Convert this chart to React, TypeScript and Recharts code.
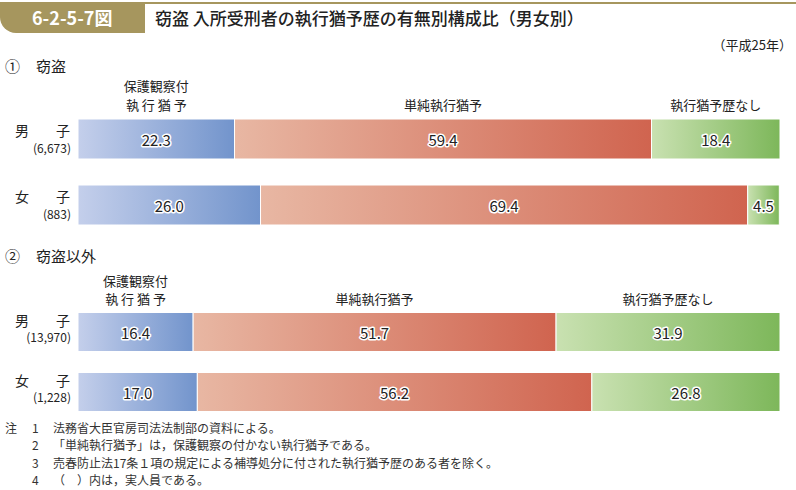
import React from 'react';
import { BarChart, Bar, XAxis, YAxis, LabelList } from 'recharts';

const categories = ['男子', '女子'];
const seriesNames = ['保護観察付執行猶予', '単純執行猶予', '執行猶予歴なし'];

const p1Counts = ['6,673', '883'];
const p1Probation = [22.3, 26.0];
const p1Simple = [59.4, 69.4];
const p1None = [18.4, 4.5];

const p2Counts = ['13,970', '1,228'];
const p2Probation = [16.4, 17.0];
const p2Simple = [51.7, 56.2];
const p2None = [31.9, 26.8];

const notes = [
  ['注', '1', '法務省大臣官房司法法制部の資料による。'],
  ['', '2', '「単純執行猶予」は，保護観察の付かない執行猶予である。'],
  ['', '3', '売春防止法17条１項の規定による補導処分に付された執行猶予歴のある者を除く。'],
  ['', '4', '（　）内は，実人員である。'],
];

const FONT = '"Noto Sans CJK JP", "Noto Sans", sans-serif';

const build = (prob: number[], simple: number[], none: number[], counts: string[]) =>
  categories.map((c, i) => ({
    name: c,
    count: counts[i],
    prob: prob[i],
    simple: simple[i],
    none: none[i],
  }));

const data1 = build(p1Probation, p1Simple, p1None, p1Counts);
const data2 = build(p2Probation, p2Simple, p2None, p2Counts);

const Gradients = () => (
  <defs>
    <linearGradient id="gBlue" x1="0" y1="0" x2="1" y2="0">
      <stop offset="0%" stopColor="#c4cfeb" />
      <stop offset="100%" stopColor="#7294cc" />
    </linearGradient>
    <linearGradient id="gRed" x1="0" y1="0" x2="1" y2="0">
      <stop offset="0%" stopColor="#e8b7a3" />
      <stop offset="100%" stopColor="#d0644f" />
    </linearGradient>
    <linearGradient id="gGreen" x1="0" y1="0" x2="1" y2="0">
      <stop offset="0%" stopColor="#c9e1b1" />
      <stop offset="100%" stopColor="#7db75a" />
    </linearGradient>
  </defs>
);

const valueLabel = (props: any) => {
  const { x, y, width, height, value } = props;
  if (value == null) return null;
  return (
    <text
      x={x + width / 2}
      y={y + height / 2}
      textAnchor="middle"
      dominantBaseline="central"
      fontSize={15}
      fontFamily={FONT}
      fill="#222"
      stroke="#fff"
      strokeWidth={3}
      strokeLinejoin="round"
      paintOrder="stroke"
    >
      {Number(value).toFixed(1)}
    </text>
  );
};

const makeHeader = (lines: string[], dy1: number, dy2: number) => (props: any) => {
  const { x, y, width, index } = props;
  if (index !== 0) return null;
  const cx = x + width / 2;
  return (
    <g>
      {lines.length === 2 && (
        <text x={cx} y={y + dy1} textAnchor="middle" dominantBaseline="central" fontSize={13} fontFamily={FONT} fill="#222">
          {lines[0]}
        </text>
      )}
      <text x={cx} y={y + dy2} textAnchor="middle" dominantBaseline="central" fontSize={13} fontFamily={FONT} fill="#222">
        {lines[lines.length - 1]}
      </text>
    </g>
  );
};

const makeTick = (counts: string[], dyName: number, dyCount: number) => (props: any) => {
  const { y, payload, index } = props;
  const name: string = payload.value;
  const idx = index != null ? index : categories.indexOf(name);
  return (
    <g>
      <text x={15} y={y + dyName} dominantBaseline="central" fontSize={14} fontFamily={FONT} fill="#222">
        {name.charAt(0)}
      </text>
      <text x={70} y={y + dyName} textAnchor="end" dominantBaseline="central" fontSize={14} fontFamily={FONT} fill="#222">
        {name.charAt(1)}
      </text>
      <text x={71} y={y + dyCount} textAnchor="end" dominantBaseline="central" fontSize={12} fontFamily={FONT} fill="#222">
        {`(${counts[idx]})`}
      </text>
    </g>
  );
};

const Panel = ({
  data,
  counts,
  height,
  marginTop,
  marginBottom,
  barSize,
  dyName,
  dyCount,
  h1,
  h2,
}: any) => (
  <BarChart
    width={796}
    height={height}
    data={data}
    layout="vertical"
    margin={{ top: marginTop, right: 16, bottom: marginBottom, left: 0 }}
    barCategoryGap={0}
  >
    <Gradients />
    <XAxis type="number" domain={[0, 100]} allowDataOverflow hide />
    <YAxis
      type="category"
      dataKey="name"
      width={78}
      axisLine={false}
      tickLine={false}
      tick={makeTick(counts, dyName, dyCount)}
    />
    <Bar dataKey="prob" name={seriesNames[0]} stackId="a" fill="url(#gBlue)" stroke="#fff" strokeWidth={1} barSize={barSize} isAnimationActive={false}>
      <LabelList dataKey="prob" content={valueLabel} />
      <LabelList dataKey="prob" content={makeHeader(['保護観察付', '執 行 猶 予'], h1, h2)} />
    </Bar>
    <Bar dataKey="simple" name={seriesNames[1]} stackId="a" fill="url(#gRed)" stroke="#fff" strokeWidth={1} barSize={barSize} isAnimationActive={false}>
      <LabelList dataKey="simple" content={valueLabel} />
      <LabelList dataKey="simple" content={makeHeader(['単純執行猶予'], h1, h2)} />
    </Bar>
    <Bar dataKey="none" name={seriesNames[2]} stackId="a" fill="url(#gGreen)" stroke="#fff" strokeWidth={1} barSize={barSize} isAnimationActive={false}>
      <LabelList dataKey="none" content={valueLabel} />
      <LabelList dataKey="none" content={makeHeader(['執行猶予歴なし'], h1, h2)} />
    </Bar>
  </BarChart>
);

export default function App() {
  return (
    <div
      style={{
        position: 'absolute',
        left: 0,
        top: 0,
        width: 796,
        height: 490,
        background: '#fff',
        fontFamily: FONT,
        color: '#222',
        overflow: 'hidden',
      }}
    >
      {/* title */}
      <div style={{ position: 'absolute', left: 0, top: 2, width: 796, height: 2, background: '#a6965e' }} />
      <div
        style={{
          position: 'absolute',
          left: 0,
          top: 2,
          width: 145,
          height: 31,
          background: '#a6965e',
          borderBottomLeftRadius: 16,
          color: '#fff',
          fontWeight: 700,
          fontSize: 18,
          lineHeight: '31px',
          paddingLeft: 32,
          boxSizing: 'border-box',
        }}
      >
        6-2-5-7図
      </div>
      <div style={{ position: 'absolute', left: 155, top: 6, fontSize: 17, lineHeight: '24px', fontWeight: 500 }}>
        窃盗 入所受刑者の執行猶予歴の有無別構成比（男女別）
      </div>
      <div style={{ position: 'absolute', right: 4, top: 36, fontSize: 13, lineHeight: '18px' }}>（平成25年）</div>

      <div style={{ position: 'absolute', left: 5, top: 56, fontSize: 15, lineHeight: '20px' }}>
        ①<span style={{ marginLeft: 16 }}>窃盗</span>
      </div>
      <div style={{ position: 'absolute', left: 5, top: 246, fontSize: 15, lineHeight: '20px' }}>
        ②<span style={{ marginLeft: 16 }}>窃盗以外</span>
      </div>

      <div style={{ position: 'absolute', left: 0, top: 60 }}>
        <Panel
          data={data1}
          counts={p1Counts}
          height={180}
          marginTop={46}
          marginBottom={2}
          barSize={40}
          dyName={-9}
          dyCount={8}
          h1={-33.5}
          h2={-15}
        />
      </div>
      <div style={{ position: 'absolute', left: 0, top: 250 }}>
        <Panel
          data={data2}
          counts={p2Counts}
          height={180}
          marginTop={51.5}
          marginBottom={8.5}
          barSize={39}
          dyName={-12}
          dyCount={5}
          h1={-32}
          h2={-14}
        />
      </div>

      {notes.map((n, i) => (
        <div
          key={i}
          style={{ position: 'absolute', left: 0, top: 420 + i * 17.3, fontSize: 12, lineHeight: '16px', color: '#333', whiteSpace: 'nowrap' }}
        >
          <span style={{ position: 'absolute', left: 5 }}>{n[0]}</span>
          <span style={{ position: 'absolute', left: 32 }}>{n[1]}</span>
          <span style={{ position: 'absolute', left: 53 }}>{n[2]}</span>
        </div>
      ))}
    </div>
  );
}
